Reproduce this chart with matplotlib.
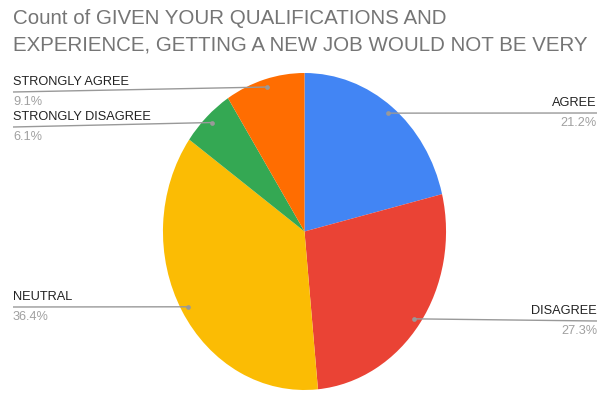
import numpy as np
import matplotlib
matplotlib.use("Agg")
import matplotlib.pyplot as plt

plt.rcParams['font.family'] = ['Liberation Sans', 'DejaVu Sans']

categories = ["AGREE", "DISAGREE", "NEUTRAL", "STRONGLY DISAGREE", "STRONGLY AGREE"]
counts = [7, 9, 12, 2, 3]
colors = ["#4285F4", "#EA4335", "#FBBC04", "#34A853", "#FF6D01"]
title_lines = ["Count of GIVEN YOUR QUALIFICATIONS AND",
               "EXPERIENCE, GETTING A NEW JOB WOULD NOT BE VERY"]

W, H = 606, 394
SX = 0.893  # horizontal compression of the drawing area

fig = plt.figure(figsize=(W / 100, H / 100), dpi=100)
ax = fig.add_axes([0, 0, 1, 1])


def X(px):
    return px / SX


def Y(py):
    return H - py


cx, cy, R = X(304.5), Y(231.5), 158.5
wedges, _ = ax.pie(counts, colors=colors, startangle=90, counterclock=False,
                   center=(cx, cy), radius=R, frame=True,
                   wedgeprops=dict(linewidth=0))
ax.set_aspect("auto")
ax.set_xlim(0, X(W))
ax.set_ylim(0, H)
ax.axis("off")

# label side and height of the leader line (pixels from top)
label_layout = {
    "AGREE": ("right", 113),
    "DISAGREE": ("right", 321),
    "NEUTRAL": ("left", 307),
    "STRONGLY DISAGREE": ("left", 127),
    "STRONGLY AGREE": ("left", 92),
}

total = sum(counts)
line_col = "#999999"
for w, name, n in zip(wedges, categories, counts):
    mid = np.deg2rad((w.theta1 + w.theta2) / 2)
    px = cx + 0.95 * R * np.cos(mid)
    py = cy + 0.95 * R * np.sin(mid)
    side, ly = label_layout[name]
    ly = Y(ly)
    if side == "right":
        xe, ha = X(597), "right"
    else:
        xe, ha = X(13), "left"
    ax.plot([px, xe], [py, ly], color=line_col, lw=1.0, solid_capstyle="butt")
    ax.plot([px], [py], "o", color=line_col, ms=3.4, mew=0)
    ax.text(xe, ly + 4, name, ha=ha, va="bottom", fontsize=9.2, color="#222222")
    ax.text(xe, ly - 3.5, f"{100 * n / total:.1f}%", ha=ha, va="top",
            fontsize=9.2, color="#a0a0a0")

for txt, base in zip(title_lines, [24, 50]):
    ax.text(X(13), Y(base), txt, ha="left", va="baseline", fontsize=14.8,
            color="#757575")

fig.savefig("out.png", dpi=100, facecolor="white")
